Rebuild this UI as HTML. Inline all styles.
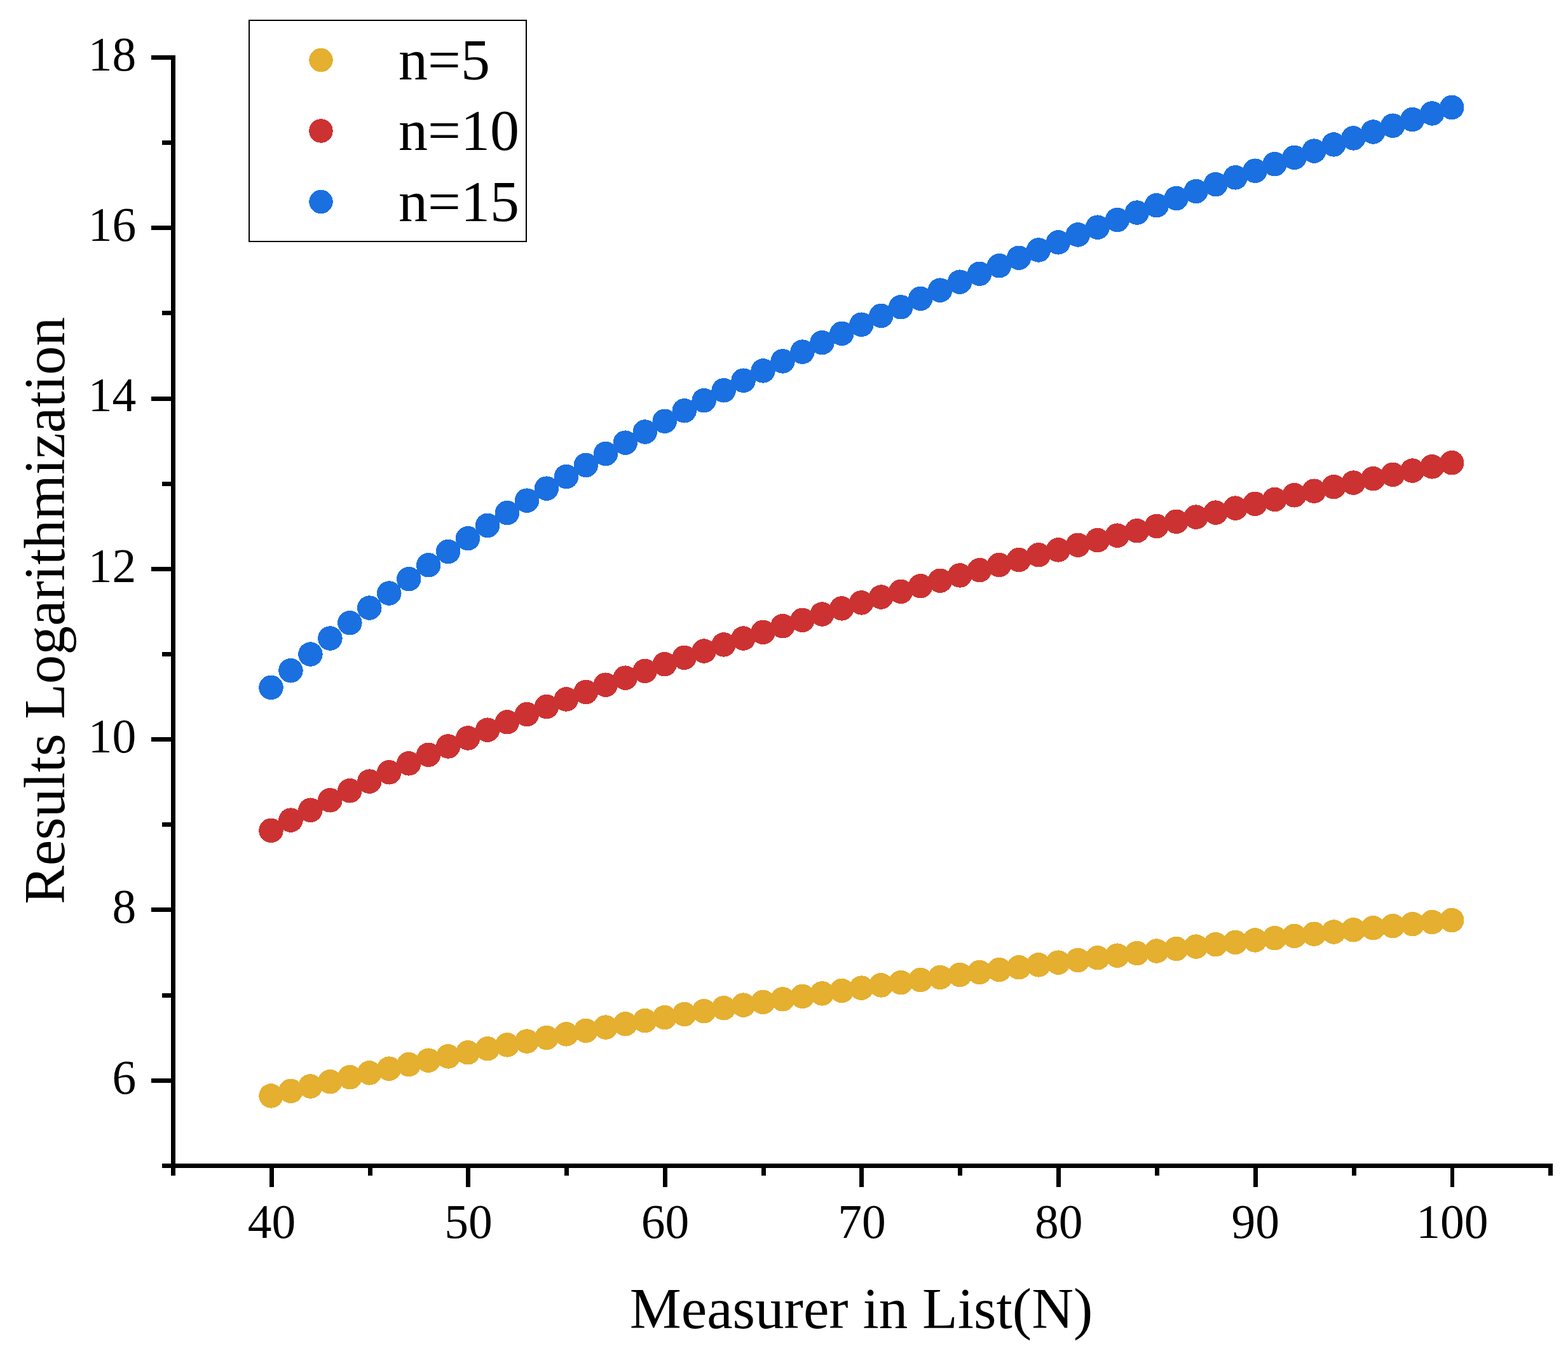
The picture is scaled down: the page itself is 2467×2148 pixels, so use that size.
<!DOCTYPE html><html><head><meta charset="utf-8"><style>html,body{margin:0;padding:0;background:#fff;}svg{display:block;}text{font-family:"Liberation Serif","Times New Roman",serif;fill:#000;}</style></head><body>
<svg width="2467" height="2148" viewBox="0 0 2467 2148">
<rect x="0" y="0" width="2467" height="2148" fill="#fff"/>
<g fill="#E5AF2F" shape-rendering="crispEdges">
<circle cx="426.50" cy="1724.44" r="19.25"/>
<circle cx="457.46" cy="1716.86" r="19.25"/>
<circle cx="488.42" cy="1709.47" r="19.25"/>
<circle cx="519.39" cy="1702.26" r="19.25"/>
<circle cx="550.35" cy="1695.23" r="19.25"/>
<circle cx="581.31" cy="1688.36" r="19.25"/>
<circle cx="612.27" cy="1681.65" r="19.25"/>
<circle cx="643.23" cy="1675.09" r="19.25"/>
<circle cx="674.20" cy="1668.68" r="19.25"/>
<circle cx="705.16" cy="1662.40" r="19.25"/>
<circle cx="736.12" cy="1656.26" r="19.25"/>
<circle cx="767.08" cy="1650.24" r="19.25"/>
<circle cx="798.04" cy="1644.35" r="19.25"/>
<circle cx="829.01" cy="1638.57" r="19.25"/>
<circle cx="859.97" cy="1632.91" r="19.25"/>
<circle cx="890.93" cy="1627.35" r="19.25"/>
<circle cx="921.89" cy="1621.89" r="19.25"/>
<circle cx="952.85" cy="1616.54" r="19.25"/>
<circle cx="983.82" cy="1611.29" r="19.25"/>
<circle cx="1014.78" cy="1606.12" r="19.25"/>
<circle cx="1045.74" cy="1601.05" r="19.25"/>
<circle cx="1076.70" cy="1596.06" r="19.25"/>
<circle cx="1107.66" cy="1591.16" r="19.25"/>
<circle cx="1138.63" cy="1586.34" r="19.25"/>
<circle cx="1169.59" cy="1581.59" r="19.25"/>
<circle cx="1200.55" cy="1576.93" r="19.25"/>
<circle cx="1231.51" cy="1572.33" r="19.25"/>
<circle cx="1262.47" cy="1567.81" r="19.25"/>
<circle cx="1293.44" cy="1563.36" r="19.25"/>
<circle cx="1324.40" cy="1558.97" r="19.25"/>
<circle cx="1355.36" cy="1554.65" r="19.25"/>
<circle cx="1386.32" cy="1550.39" r="19.25"/>
<circle cx="1417.28" cy="1546.20" r="19.25"/>
<circle cx="1448.25" cy="1542.06" r="19.25"/>
<circle cx="1479.21" cy="1537.98" r="19.25"/>
<circle cx="1510.17" cy="1533.96" r="19.25"/>
<circle cx="1541.13" cy="1529.99" r="19.25"/>
<circle cx="1572.09" cy="1526.07" r="19.25"/>
<circle cx="1603.06" cy="1522.21" r="19.25"/>
<circle cx="1634.02" cy="1518.40" r="19.25"/>
<circle cx="1664.98" cy="1514.64" r="19.25"/>
<circle cx="1695.94" cy="1510.92" r="19.25"/>
<circle cx="1726.90" cy="1507.25" r="19.25"/>
<circle cx="1757.87" cy="1503.63" r="19.25"/>
<circle cx="1788.83" cy="1500.05" r="19.25"/>
<circle cx="1819.79" cy="1496.52" r="19.25"/>
<circle cx="1850.75" cy="1493.02" r="19.25"/>
<circle cx="1881.71" cy="1489.57" r="19.25"/>
<circle cx="1912.68" cy="1486.16" r="19.25"/>
<circle cx="1943.64" cy="1482.79" r="19.25"/>
<circle cx="1974.60" cy="1479.46" r="19.25"/>
<circle cx="2005.56" cy="1476.16" r="19.25"/>
<circle cx="2036.52" cy="1472.90" r="19.25"/>
<circle cx="2067.49" cy="1469.68" r="19.25"/>
<circle cx="2098.45" cy="1466.49" r="19.25"/>
<circle cx="2129.41" cy="1463.34" r="19.25"/>
<circle cx="2160.37" cy="1460.22" r="19.25"/>
<circle cx="2191.33" cy="1457.14" r="19.25"/>
<circle cx="2222.30" cy="1454.08" r="19.25"/>
<circle cx="2253.26" cy="1451.06" r="19.25"/>
<circle cx="2284.22" cy="1448.07" r="19.25"/>
</g>
<g fill="#CD3232" shape-rendering="crispEdges">
<circle cx="426.50" cy="1306.90" r="19.25"/>
<circle cx="457.46" cy="1290.59" r="19.25"/>
<circle cx="488.42" cy="1274.74" r="19.25"/>
<circle cx="519.39" cy="1259.30" r="19.25"/>
<circle cx="550.35" cy="1244.27" r="19.25"/>
<circle cx="581.31" cy="1229.62" r="19.25"/>
<circle cx="612.27" cy="1215.32" r="19.25"/>
<circle cx="643.23" cy="1201.38" r="19.25"/>
<circle cx="674.20" cy="1187.75" r="19.25"/>
<circle cx="705.16" cy="1174.44" r="19.25"/>
<circle cx="736.12" cy="1161.43" r="19.25"/>
<circle cx="767.08" cy="1148.71" r="19.25"/>
<circle cx="798.04" cy="1136.25" r="19.25"/>
<circle cx="829.01" cy="1124.06" r="19.25"/>
<circle cx="859.97" cy="1112.12" r="19.25"/>
<circle cx="890.93" cy="1100.42" r="19.25"/>
<circle cx="921.89" cy="1088.95" r="19.25"/>
<circle cx="952.85" cy="1077.70" r="19.25"/>
<circle cx="983.82" cy="1066.67" r="19.25"/>
<circle cx="1014.78" cy="1055.84" r="19.25"/>
<circle cx="1045.74" cy="1045.21" r="19.25"/>
<circle cx="1076.70" cy="1034.77" r="19.25"/>
<circle cx="1107.66" cy="1024.51" r="19.25"/>
<circle cx="1138.63" cy="1014.43" r="19.25"/>
<circle cx="1169.59" cy="1004.53" r="19.25"/>
<circle cx="1200.55" cy="994.79" r="19.25"/>
<circle cx="1231.51" cy="985.21" r="19.25"/>
<circle cx="1262.47" cy="975.78" r="19.25"/>
<circle cx="1293.44" cy="966.51" r="19.25"/>
<circle cx="1324.40" cy="957.38" r="19.25"/>
<circle cx="1355.36" cy="948.39" r="19.25"/>
<circle cx="1386.32" cy="939.54" r="19.25"/>
<circle cx="1417.28" cy="930.82" r="19.25"/>
<circle cx="1448.25" cy="922.23" r="19.25"/>
<circle cx="1479.21" cy="913.76" r="19.25"/>
<circle cx="1510.17" cy="905.42" r="19.25"/>
<circle cx="1541.13" cy="897.19" r="19.25"/>
<circle cx="1572.09" cy="889.08" r="19.25"/>
<circle cx="1603.06" cy="881.08" r="19.25"/>
<circle cx="1634.02" cy="873.19" r="19.25"/>
<circle cx="1664.98" cy="865.40" r="19.25"/>
<circle cx="1695.94" cy="857.72" r="19.25"/>
<circle cx="1726.90" cy="850.14" r="19.25"/>
<circle cx="1757.87" cy="842.65" r="19.25"/>
<circle cx="1788.83" cy="835.26" r="19.25"/>
<circle cx="1819.79" cy="827.96" r="19.25"/>
<circle cx="1850.75" cy="820.76" r="19.25"/>
<circle cx="1881.71" cy="813.64" r="19.25"/>
<circle cx="1912.68" cy="806.60" r="19.25"/>
<circle cx="1943.64" cy="799.65" r="19.25"/>
<circle cx="1974.60" cy="792.79" r="19.25"/>
<circle cx="2005.56" cy="786.00" r="19.25"/>
<circle cx="2036.52" cy="779.29" r="19.25"/>
<circle cx="2067.49" cy="772.66" r="19.25"/>
<circle cx="2098.45" cy="766.10" r="19.25"/>
<circle cx="2129.41" cy="759.61" r="19.25"/>
<circle cx="2160.37" cy="753.20" r="19.25"/>
<circle cx="2191.33" cy="746.85" r="19.25"/>
<circle cx="2222.30" cy="740.58" r="19.25"/>
<circle cx="2253.26" cy="734.37" r="19.25"/>
<circle cx="2284.22" cy="728.23" r="19.25"/>
</g>
<g fill="#1A70E0" shape-rendering="crispEdges">
<circle cx="426.50" cy="1081.84" r="19.25"/>
<circle cx="457.46" cy="1055.28" r="19.25"/>
<circle cx="488.42" cy="1029.52" r="19.25"/>
<circle cx="519.39" cy="1004.51" r="19.25"/>
<circle cx="550.35" cy="980.20" r="19.25"/>
<circle cx="581.31" cy="956.55" r="19.25"/>
<circle cx="612.27" cy="933.54" r="19.25"/>
<circle cx="643.23" cy="911.13" r="19.25"/>
<circle cx="674.20" cy="889.28" r="19.25"/>
<circle cx="705.16" cy="867.97" r="19.25"/>
<circle cx="736.12" cy="847.17" r="19.25"/>
<circle cx="767.08" cy="826.87" r="19.25"/>
<circle cx="798.04" cy="807.02" r="19.25"/>
<circle cx="829.01" cy="787.62" r="19.25"/>
<circle cx="859.97" cy="768.65" r="19.25"/>
<circle cx="890.93" cy="750.08" r="19.25"/>
<circle cx="921.89" cy="731.90" r="19.25"/>
<circle cx="952.85" cy="714.09" r="19.25"/>
<circle cx="983.82" cy="696.64" r="19.25"/>
<circle cx="1014.78" cy="679.54" r="19.25"/>
<circle cx="1045.74" cy="662.77" r="19.25"/>
<circle cx="1076.70" cy="646.31" r="19.25"/>
<circle cx="1107.66" cy="630.16" r="19.25"/>
<circle cx="1138.63" cy="614.30" r="19.25"/>
<circle cx="1169.59" cy="598.73" r="19.25"/>
<circle cx="1200.55" cy="583.43" r="19.25"/>
<circle cx="1231.51" cy="568.40" r="19.25"/>
<circle cx="1262.47" cy="553.62" r="19.25"/>
<circle cx="1293.44" cy="539.09" r="19.25"/>
<circle cx="1324.40" cy="524.80" r="19.25"/>
<circle cx="1355.36" cy="510.73" r="19.25"/>
<circle cx="1386.32" cy="496.90" r="19.25"/>
<circle cx="1417.28" cy="483.27" r="19.25"/>
<circle cx="1448.25" cy="469.86" r="19.25"/>
<circle cx="1479.21" cy="456.65" r="19.25"/>
<circle cx="1510.17" cy="443.64" r="19.25"/>
<circle cx="1541.13" cy="430.82" r="19.25"/>
<circle cx="1572.09" cy="418.19" r="19.25"/>
<circle cx="1603.06" cy="405.74" r="19.25"/>
<circle cx="1634.02" cy="393.46" r="19.25"/>
<circle cx="1664.98" cy="381.35" r="19.25"/>
<circle cx="1695.94" cy="369.41" r="19.25"/>
<circle cx="1726.90" cy="357.63" r="19.25"/>
<circle cx="1757.87" cy="346.01" r="19.25"/>
<circle cx="1788.83" cy="334.54" r="19.25"/>
<circle cx="1819.79" cy="323.22" r="19.25"/>
<circle cx="1850.75" cy="312.04" r="19.25"/>
<circle cx="1881.71" cy="301.01" r="19.25"/>
<circle cx="1912.68" cy="290.11" r="19.25"/>
<circle cx="1943.64" cy="279.35" r="19.25"/>
<circle cx="1974.60" cy="268.72" r="19.25"/>
<circle cx="2005.56" cy="258.21" r="19.25"/>
<circle cx="2036.52" cy="247.84" r="19.25"/>
<circle cx="2067.49" cy="237.58" r="19.25"/>
<circle cx="2098.45" cy="227.44" r="19.25"/>
<circle cx="2129.41" cy="217.42" r="19.25"/>
<circle cx="2160.37" cy="207.52" r="19.25"/>
<circle cx="2191.33" cy="197.72" r="19.25"/>
<circle cx="2222.30" cy="188.04" r="19.25"/>
<circle cx="2253.26" cy="178.46" r="19.25"/>
<circle cx="2284.22" cy="168.98" r="19.25"/>
</g>
<g fill="#000" shape-rendering="crispEdges">
<rect x="269" y="87" width="7" height="1751"/>
<rect x="269" y="1831" width="2174" height="7"/>
<rect x="255" y="1831" width="14" height="7"/>
<rect x="238" y="1697" width="31" height="7"/>
<rect x="255" y="1563" width="14" height="7"/>
<rect x="238" y="1428" width="31" height="7"/>
<rect x="255" y="1294" width="14" height="7"/>
<rect x="238" y="1160" width="31" height="7"/>
<rect x="255" y="1026" width="14" height="7"/>
<rect x="238" y="892" width="31" height="7"/>
<rect x="255" y="758" width="14" height="7"/>
<rect x="238" y="624" width="31" height="7"/>
<rect x="255" y="489" width="14" height="7"/>
<rect x="238" y="355" width="31" height="7"/>
<rect x="255" y="221" width="14" height="7"/>
<rect x="238" y="87" width="31" height="7"/>
<rect x="269" y="1838" width="7" height="12"/>
<rect x="424" y="1838" width="7" height="30"/>
<rect x="579" y="1838" width="7" height="12"/>
<rect x="733" y="1838" width="7" height="30"/>
<rect x="888" y="1838" width="7" height="12"/>
<rect x="1043" y="1838" width="7" height="30"/>
<rect x="1198" y="1838" width="7" height="12"/>
<rect x="1352" y="1838" width="7" height="30"/>
<rect x="1507" y="1838" width="7" height="12"/>
<rect x="1662" y="1838" width="7" height="30"/>
<rect x="1817" y="1838" width="7" height="12"/>
<rect x="1972" y="1838" width="7" height="30"/>
<rect x="2127" y="1838" width="7" height="12"/>
<rect x="2282" y="1838" width="6" height="30"/>
<rect x="2436" y="1838" width="7" height="12"/>
</g>
<g font-size="75.5">
<text x="214.3" y="1720.6" text-anchor="end">6</text>
<text x="214.3" y="1452.3" text-anchor="end">8</text>
<text x="214.3" y="1184.0" text-anchor="end">10</text>
<text x="214.3" y="915.7" text-anchor="end">12</text>
<text x="214.3" y="647.4" text-anchor="end">14</text>
<text x="214.3" y="379.1" text-anchor="end">16</text>
<text x="214.3" y="110.8" text-anchor="end">18</text>
<text x="427.4" y="1948" text-anchor="middle">40</text>
<text x="737.0" y="1948" text-anchor="middle">50</text>
<text x="1046.5" y="1948" text-anchor="middle">60</text>
<text x="1356.1" y="1948" text-anchor="middle">70</text>
<text x="1665.7" y="1948" text-anchor="middle">80</text>
<text x="1975.2" y="1948" text-anchor="middle">90</text>
<text x="2284.8" y="1948" text-anchor="middle">100</text>
</g>
<text transform="translate(1355,2090) scale(0.9904,1)" x="0" y="0" font-size="92" text-anchor="middle">Measurer in List(N)</text>
<text transform="translate(100.6,961) rotate(-90) scale(0.991,1)" x="0" y="0" font-size="92" text-anchor="middle">Results Logarithmization</text>
<rect x="392" y="32" width="436" height="348" fill="none" stroke="#000" stroke-width="2" shape-rendering="crispEdges"/>
<circle cx="505" cy="94.5" r="18.75" fill="#E5AF2F" shape-rendering="crispEdges"/>
<text x="627" y="125.0" font-size="92">n=5</text>
<circle cx="505" cy="206.0" r="18.75" fill="#CD3232" shape-rendering="crispEdges"/>
<text x="627" y="236.3" font-size="92">n=10</text>
<circle cx="505" cy="317.5" r="18.75" fill="#1A70E0" shape-rendering="crispEdges"/>
<text x="627" y="347.6" font-size="92">n=15</text>
</svg></body></html>
